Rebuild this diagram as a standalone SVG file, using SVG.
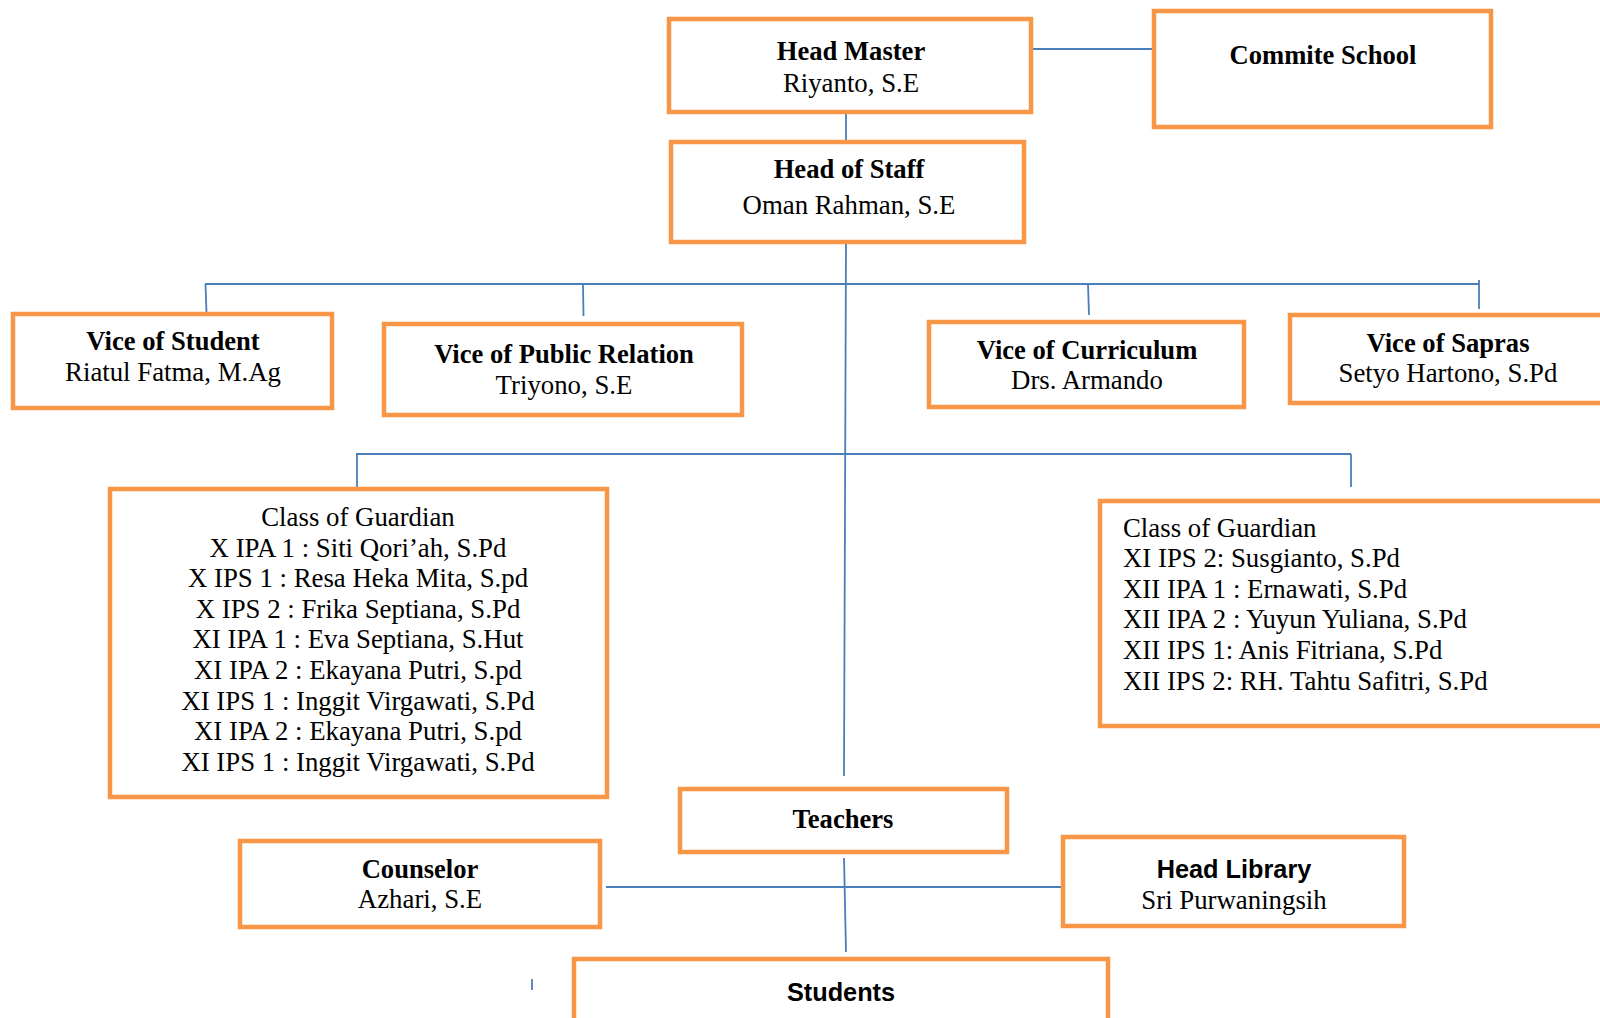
<svg xmlns="http://www.w3.org/2000/svg" width="1600" height="1018" viewBox="0 0 1600 1018">
<style>
.box{fill:#fff;stroke:#F79646;stroke-width:4.5}
.ln{stroke:#4A7EBB;stroke-width:1.8;fill:none}
.b{font-family:"Liberation Serif","Times New Roman",serif;font-weight:bold;font-size:26.6px;fill:#000;text-anchor:middle}
.r{font-family:"Liberation Serif","Times New Roman",serif;font-size:26.8px;fill:#000;text-anchor:middle}
.l{font-family:"Liberation Serif","Times New Roman",serif;font-size:26.8px;fill:#000}
.s{font-family:"Liberation Sans",Arial,sans-serif;font-weight:bold;font-size:25.3px;fill:#000;text-anchor:middle}
</style>
<rect width="1600" height="1018" fill="#fff"/>
<g id="connectors">
<line class="ln" x1="1031" y1="49" x2="1154" y2="49"/>
<line class="ln" x1="846" y1="112" x2="846" y2="142"/>
<line class="ln" x1="846" y1="242" x2="844" y2="776"/>
<line class="ln" x1="205" y1="284" x2="1479" y2="284"/>
<line class="ln" x1="205.5" y1="284" x2="206.5" y2="313"/>
<line class="ln" x1="583" y1="284" x2="583.5" y2="316"/>
<line class="ln" x1="1088" y1="284" x2="1089" y2="315"/>
<line class="ln" x1="1479" y1="280" x2="1479" y2="309"/>
<line class="ln" x1="356" y1="454" x2="1351" y2="454"/>
<line class="ln" x1="357" y1="454" x2="357" y2="487"/>
<line class="ln" x1="1351" y1="454" x2="1351" y2="487"/>
<line class="ln" x1="606" y1="887" x2="1062" y2="887"/>
<line class="ln" x1="844" y1="858" x2="846" y2="952"/>
<line class="ln" x1="532" y1="979" x2="532" y2="990"/>
</g>
<g id="head-master">
<rect class="box" x="669" y="19" width="362" height="93"/>
<text class="b" x="851" y="60">Head Master</text>
<text class="r" x="851" y="92">Riyanto, S.E</text>
</g>
<g id="commite-school">
<rect class="box" x="1154" y="11" width="337" height="116"/>
<text class="b" x="1323" y="64">Commite School</text>
</g>
<g id="head-of-staff">
<rect class="box" x="671" y="142" width="353" height="100"/>
<text class="b" x="849" y="178">Head of Staff</text>
<text class="r" x="849" y="214">Oman Rahman, S.E</text>
</g>
<g id="vice-student">
<rect class="box" x="13" y="314" width="319" height="94"/>
<text class="b" x="173" y="350">Vice of Student</text>
<text class="r" x="173" y="381">Riatul Fatma, M.Ag</text>
</g>
<g id="vice-public-relation">
<rect class="box" x="384" y="324" width="358" height="91"/>
<text class="b" x="564" y="363">Vice of Public Relation</text>
<text class="r" x="564" y="394">Triyono, S.E</text>
</g>
<g id="vice-curriculum">
<rect class="box" x="929" y="322" width="315" height="85"/>
<text class="b" x="1087" y="359">Vice of Curriculum</text>
<text class="r" x="1087" y="389">Drs. Armando</text>
</g>
<g id="vice-sapras">
<rect class="box" x="1290" y="315" width="320" height="88"/>
<text class="b" x="1448" y="352">Vice of Sapras</text>
<text class="r" x="1448" y="382">Setyo Hartono, S.Pd</text>
</g>
<g id="class-guardian-left">
<rect class="box" x="110" y="489" width="497" height="308"/>
<text class="r" x="358" y="526">Class of Guardian</text>
<text class="r" x="358" y="556.6">X IPA 1 : Siti Qori’ah, S.Pd</text>
<text class="r" x="358" y="587.2">X IPS 1 : Resa Heka Mita, S.pd</text>
<text class="r" x="358" y="617.8">X IPS 2 : Frika Septiana, S.Pd</text>
<text class="r" x="358" y="648.4">XI IPA 1 : Eva Septiana, S.Hut</text>
<text class="r" x="358" y="679">XI IPA 2 : Ekayana Putri, S.pd</text>
<text class="r" x="358" y="709.6">XI IPS 1 : Inggit Virgawati, S.Pd</text>
<text class="r" x="358" y="740.2">XI IPA 2 : Ekayana Putri, S.pd</text>
<text class="r" x="358" y="770.8">XI IPS 1 : Inggit Virgawati, S.Pd</text>
</g>
<g id="class-guardian-right">
<rect class="box" x="1100" y="501" width="510" height="225"/>
<text class="l" x="1123" y="536.5">Class of Guardian</text>
<text class="l" x="1123" y="567.1">XI IPS 2: Susgianto, S.Pd</text>
<text class="l" x="1123" y="597.7">XII IPA 1 : Ernawati, S.Pd</text>
<text class="l" x="1123" y="628.3">XII IPA 2 : Yuyun Yuliana, S.Pd</text>
<text class="l" x="1123" y="658.9">XII IPS 1: Anis Fitriana, S.Pd</text>
<text class="l" x="1123" y="689.5">XII IPS 2: RH. Tahtu Safitri, S.Pd</text>
</g>
<g id="teachers">
<rect class="box" x="680" y="789" width="327" height="63"/>
<text class="b" x="843" y="828">Teachers</text>
</g>
<g id="counselor">
<rect class="box" x="240" y="841" width="360" height="86"/>
<text class="b" x="420" y="878">Counselor</text>
<text class="r" x="420" y="908">Azhari, S.E</text>
</g>
<g id="head-library">
<rect class="box" x="1063" y="837" width="341" height="89"/>
<text class="s" x="1234" y="878">Head Library</text>
<text class="r" x="1234" y="909">Sri Purwaningsih</text>
</g>
<g id="students">
<rect class="box" x="574" y="959" width="534" height="70"/>
<text class="s" x="841" y="1001">Students</text>
</g>
</svg>
